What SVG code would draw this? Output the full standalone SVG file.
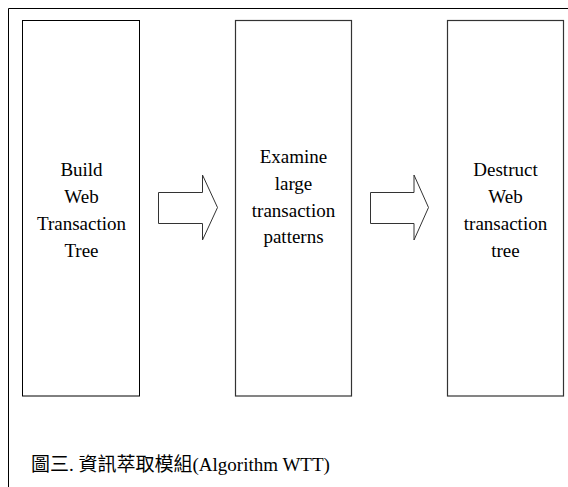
<svg xmlns="http://www.w3.org/2000/svg" width="568" height="487" viewBox="0 0 568 487">
<style>
.box{fill:#fff;stroke:#333;stroke-width:1.2}
.box1{stroke:#000;stroke-width:1}
.arrow{fill:#fff;stroke:#333;stroke-width:1}
.lbl{font-family:'Liberation Serif','Times New Roman',serif;font-size:19px;fill:#000;text-anchor:middle}
.cap{font-family:'Liberation Serif','Noto Sans CJK TC',serif;font-size:19px;fill:#000}
</style>
<rect x="0" y="0" width="568" height="487" fill="#fff"/>
<path d="M8.5,487 V8.5 H568" fill="none" stroke="#000" stroke-width="1"/>
<g id="node-build">
<rect class="box box1" x="22.5" y="20.5" width="117" height="375.5"/>
<text class="lbl" x="81.5" y="176">Build</text>
<text class="lbl" x="81.5" y="203">Web</text>
<text class="lbl" x="81.5" y="230">Transaction</text>
<text class="lbl" x="81.5" y="257">Tree</text>
</g>
<g id="node-examine">
<rect class="box" x="235.5" y="20.5" width="116" height="375.5"/>
<text class="lbl" x="293.5" y="163">Examine</text>
<text class="lbl" x="293.5" y="190">large</text>
<text class="lbl" x="293.5" y="217">transaction</text>
<text class="lbl" x="293.5" y="243">patterns</text>
</g>
<g id="node-destruct">
<rect class="box" x="447.5" y="20.5" width="116" height="375.5"/>
<text class="lbl" x="505.5" y="176">Destruct</text>
<text class="lbl" x="505.5" y="203">Web</text>
<text class="lbl" x="505.5" y="230">transaction</text>
<text class="lbl" x="505.5" y="257">tree</text>
</g>
<g id="connectors">
<polygon class="arrow" points="158.5,192.5 202.5,192.5 202.5,175 217.5,207.5 202.5,240 202.5,223.5 158.5,223.5"/>
<polygon class="arrow" points="370.5,192.5 414,192.5 414,175 428.5,207.5 414,240 414,223.5 370.5,223.5"/>
</g>
<text class="cap" x="31" y="471">圖三. 資訊萃取模組(Algorithm WTT)</text>
</svg>
